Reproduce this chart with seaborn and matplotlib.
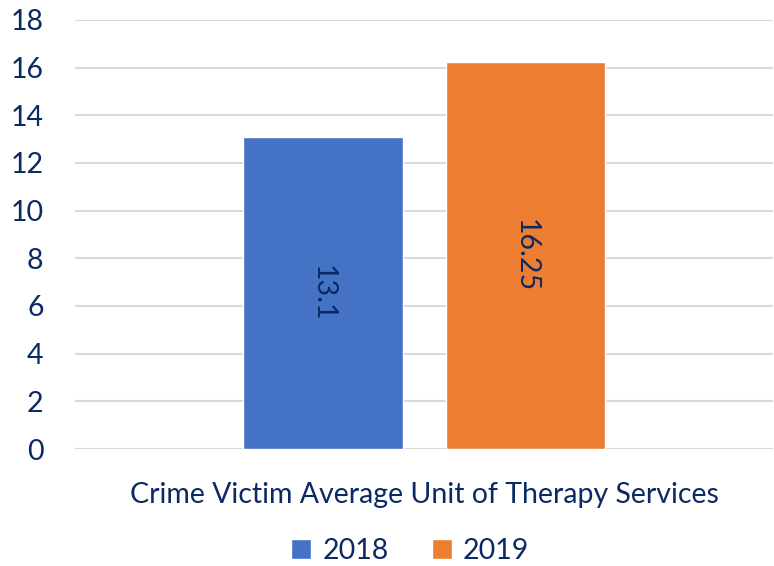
import matplotlib.pyplot as plt
import seaborn as sns
import pandas as pd

# chart data
category = ["Crime Victim Average Unit of Therapy Services"]
years = ["2018", "2019"]
values = [13.1, 16.25]
colors = ["#4472C4", "#ED7D31"]
text_color = "#0B2A63"

df = pd.DataFrame({
    "category": category * len(years),
    "year": years,
    "value": values,
})

sns.set_style("white")
plt.rcParams["font.family"] = ["Lato", "DejaVu Sans"]

fig = plt.figure(figsize=(7.74, 5.66), dpi=100)
ax = fig.add_axes([0.0975, 0.2067, 0.9015, 0.758])

sns.barplot(data=df, x="category", y="value", hue="year", palette=colors,
            width=0.58, gap=0.21, ax=ax, legend=True, saturation=1)

ax.set_ylim(0, 18)
ax.set_yticks(range(0, 19, 2))
ax.set_xlim(-0.5, 0.5)
ax.yaxis.grid(True, color="#D9D9D9", linewidth=1.5)
ax.set_axisbelow(True)
for s in ax.spines.values():
    s.set_visible(False)
ax.tick_params(axis="both", length=0, labelsize=20.5, colors=text_color)
ax.tick_params(axis="y", pad=23)
ax.tick_params(axis="x", pad=24)
ax.set_xlabel("")
ax.set_ylabel("")

# labels inside bars, rotated
for cont in ax.containers:
    for bar, v in zip(cont, cont.datavalues):
        ax.text(bar.get_x() + bar.get_width() / 2, v / 2, f"{v:g}",
                rotation=270, ha="center", va="center",
                fontsize=20.5, color=text_color)

ax.legend(loc="center", bbox_to_anchor=(0.48, -0.237), ncol=2,
          frameon=False, fontsize=20.5, labelcolor=text_color,
          handlelength=0.7, handleheight=0.7, handletextpad=0.4,
          columnspacing=1.5)

fig.savefig("out.png", dpi=100)
